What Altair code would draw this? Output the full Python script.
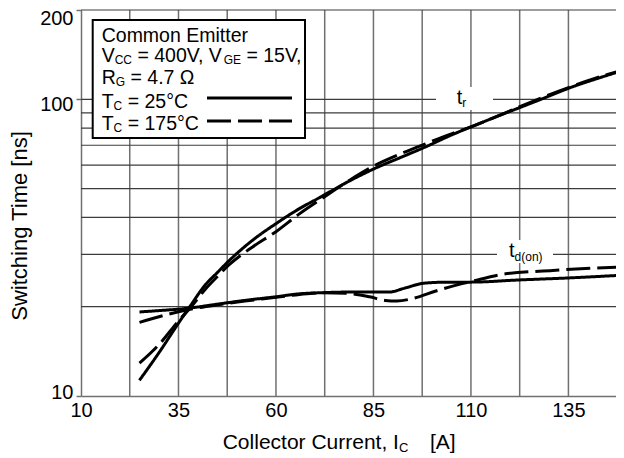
import altair as alt
import pandas as pd

# ---------------- data ----------------
ic_tr25 = [25, 30, 35, 38, 42, 45, 48, 54, 60, 66, 71, 79, 85, 92, 98, 105, 110, 117, 123, 130, 135, 143, 148]
tr25 = [11.3, 14.0, 17.6, 20.1, 23.8, 26.1, 28.6, 33.5, 38.1, 42.8, 46.5, 53.2, 58.2, 63.7, 68.8, 75.8, 80.7,
        87.9, 94.3, 102.5, 108.9, 118.2, 124.0]

ic_tr175 = [25, 30, 35, 38, 42, 45, 48, 54, 60, 66, 72, 79, 85, 92, 98, 105, 110, 117, 123, 130, 135, 143, 148]
tr175 = [12.9, 14.9, 17.9, 19.8, 23.0, 25.3, 27.7, 31.8, 35.8, 41.1, 46.5, 53.5, 59.5, 65.5, 70.5, 76.5, 80.7,
         88.0, 95.0, 103.5, 109.5, 119.0, 124.5]

ic_td25 = [25, 30, 38, 45, 52, 60, 66, 72, 78, 84, 89, 93, 98, 104, 110, 122, 135, 148]
td25 = [19.2, 19.4, 19.8, 20.4, 21.0, 21.6, 22.1, 22.3, 22.4, 22.4, 22.4, 23.1, 24.0, 24.2, 24.2, 24.6, 25.0, 25.5]

ic_td175 = [25, 30, 38, 45, 52, 60, 66, 72, 78, 84, 88, 91, 95, 101, 106, 110, 118, 131, 148]
td175 = [17.7, 18.5, 19.6, 20.3, 20.9, 21.5, 22.0, 22.3, 22.2, 21.6, 21.0, 20.9, 21.3, 22.6, 23.6, 24.3, 25.7,
         26.5, 27.2]

x_ticks = [10, 35, 60, 85, 110, 135]
x_grid = [22.5, 35, 47.5, 60, 72.5, 85, 97.5, 110, 122.5, 135, 147.5]
y_ticks = [10, 100, 200]
y_grid = [20, 30, 40, 50, 60, 70, 80, 90, 100, 200]

rows = []
for name, temp, xs_, ys_ in [("tr25", "25", ic_tr25, tr25), ("tr175", "175", ic_tr175, tr175),
                             ("td25", "25", ic_td25, td25), ("td175", "175", ic_td175, td175)]:
    for a, b in zip(xs_, ys_):
        rows.append({"Ic": a, "t": b, "curve": name, "temp": temp})
df = pd.DataFrame(rows)

# ---------------- layout / style ----------------
FONT = "Liberation Sans"
W, H = 535, 386
GRID_V = "#707070"
GRID_H = "#3c3c3c"

xs = alt.Scale(domain=[10, 147.2], nice=False, zero=False)
ys = alt.Scale(type="log", domain=[10, 200], nice=False)

AX = alt.Axis(values=x_ticks, ticks=False, grid=False, labelFlush=False, labelFontSize=20, labelFont=FONT,
              labelColor="black", labelPadding=4, domainColor=GRID_V, domainWidth=1.5, title=None)
AY = alt.Axis(values=y_ticks, tickSize=5, tickColor=GRID_V, tickWidth=1.5, grid=False, labelFontSize=20,
              labelFont=FONT, labelColor="black", labelPadding=3, domainColor=GRID_V, domainWidth=1.5,
              labelOffset={"condition": [{"test": "datum.value == 10", "value": -4},
                                         {"test": "datum.value == 200", "value": 8}], "value": 5},
              title=None)

one = pd.DataFrame({"k": [0]})

WT = {' ': 278, ',': 278, '.': 278, '=': 584, '°': 400, 'Ω': 768, '(': 333, ')': 333, '[': 278,
      ']': 278, 'A': 667, 'C': 722, 'E': 667, 'G': 778, 'I': 278, 'R': 722, 'T': 611, 'V': 667,
      'a': 556, 'c': 500, 'd': 556, 'e': 556, 'i': 222, 'l': 222, 'm': 833, 'n': 556, 'o': 556,
      'r': 333, 't': 278, 'u': 556}


def tw(s, size):
    return sum(WT.get(c, 556) for c in s) / 1000.0 * size


def txt(s, x, y, size, **kw):
    opts = {"text": s, "fontSize": size, "font": FONT, "color": "black", "align": "left",
            "baseline": "alphabetic"}
    opts.update(kw)
    return alt.Chart(one).mark_text(**opts).encode(x=alt.value(x), y=alt.value(y))


def rich(pieces, x0, y0):
    out = []
    x = x0
    for s, size, dy in pieces:
        lead = len(s) - len(s.lstrip(" "))
        x += tw(" " * lead, size)
        body = s.lstrip(" ")
        out.append(txt(body, x, y0 + dy, size))
        x += tw(body, size)
    return out


def box(x1, x2, y1, y2, stroke=None, sw=0):
    kw = {"fill": "white"}
    if stroke:
        kw.update(stroke=stroke, strokeWidth=sw)
    return alt.Chart(one).mark_rect(**kw).encode(x=alt.value(x1), x2=alt.value(x2),
                                                 y=alt.value(y1), y2=alt.value(y2))


def hline(x1, x2, y, dash=None):
    kw = {"color": "black", "strokeWidth": 3}
    if dash:
        kw["strokeDash"] = dash
    return alt.Chart(one).mark_rule(**kw).encode(x=alt.value(x1), x2=alt.value(x2), y=alt.value(y))


vgrid = alt.Chart(pd.DataFrame({"g": x_grid})).mark_rule(color=GRID_V, strokeWidth=1.5, clip=True).encode(
    x=alt.X("g:Q", scale=xs, axis=AX)
)
hgrid = alt.Chart(pd.DataFrame({"g": y_grid})).mark_rule(color=GRID_H, strokeWidth=1.2).encode(
    y=alt.Y("g:Q", scale=ys, axis=AY)
)

lines = alt.Chart(df).mark_line(color="black", strokeWidth=3, clip=True, interpolate="monotone").encode(
    x=alt.X("Ic:Q", scale=xs, axis=AX),
    y=alt.Y("t:Q", scale=ys, axis=AY),
    strokeDash=alt.StrokeDash("temp:N", scale=alt.Scale(domain=["25", "175"], range=[[1, 0], [24, 7]]),
                              legend=None),
    detail="curve:N",
)

layers = [vgrid, hgrid]
# curve labels with white background
layers.append(box(355, 412, 77, 100))
layers.append(box(416, 472, 230, 253))
layers.append(lines)
layers += rich([("t", 20, 0), ("r", 12, 3)], 375.7, 94)
layers += rich([("t", 20, 0), ("d(on)", 12, 4)], 428, 247)

# legend box
layers.append(box(11.7, 224, 10, 128, stroke="black", sw=2))
LX = 20.7
layers += rich([("Common Emitter", 19.5, 0)], LX, 32)
layers += rich([("V", 19.5, 0), ("CC", 12, 2), (" = 400V, V", 19.5, 0), ("GE", 12, 2), (" = 15V,", 19.5, 0)], LX, 52)
layers += rich([("R", 19.5, 0), ("G", 12, 2), (" = 4.7 Ω", 19.5, 0)], LX, 73.5)
layers += rich([("T", 19.5, 0), ("C", 12, 2), (" = 25°C", 19.5, 0)], LX, 98)
layers += rich([("T", 19.5, 0), ("C", 12, 2), (" = 175°C", 19.5, 0)], LX, 120)
layers.append(hline(126, 211, 88))
layers.append(hline(126, 211, 111, dash=[24, 7]))

# axis titles
layers.append(txt("Switching Time [ns]", -61, 216, 22, angle=270, align="center", baseline="middle"))
layers += rich([("Collector Current, I", 21, 0), ("C", 13, 3)], 141.7, 439.3)
layers.append(txt("[A]", 349, 439.3, 21))

chart = alt.layer(*layers).properties(
    width=W, height=H,
    padding={"left": 73, "top": 2, "right": 0, "bottom": 62},
    autosize=alt.AutoSizeParams(type="none"),
).configure_view(stroke=None)

chart.save("out.html", embed_options={"renderer": "svg", "actions": False})
